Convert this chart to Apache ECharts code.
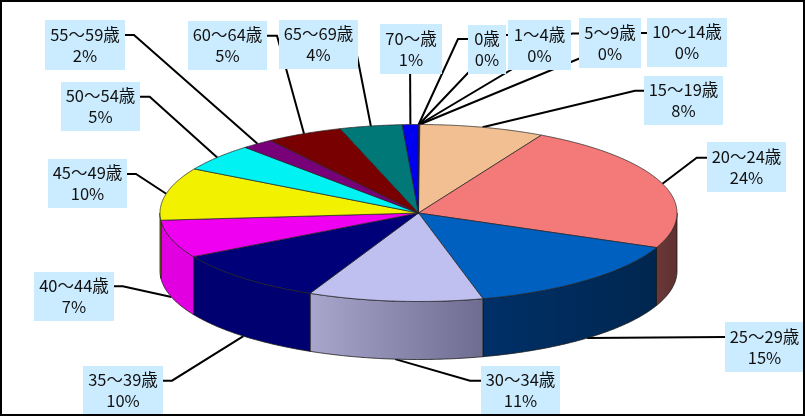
<!DOCTYPE html>
<html><head><meta charset="utf-8">
<script src="https://cdn.jsdelivr.net/npm/echarts@6/dist/echarts.min.js"></script>
<style>html,body{margin:0;padding:0;background:#fff}#c{width:805px;height:416px}</style>
</head><body><div id="c"></div>
<script>
// data
const categories = ['0歳','1〜4歳','5〜9歳','10〜14歳','15〜19歳','20〜24歳','25〜29歳','30〜34歳','35〜39歳','40〜44歳','45〜49歳','50〜54歳','55〜59歳','60〜64歳','65〜69歳','70〜歳'];
const values = [0.02,0.02,0.02,0.02,7.8,23.5,14.6,10.9,9.9,6.9,9.6,5.0,2.0,4.8,3.9,1.0];

// styles
const topColors = ['#ff8080','#0066cc','#ccccff','#000080','#f2bf92','#f47a7a','#0060c0','#c0c0f0','#000078','#f000f0','#f2f200','#00f2f2','#780078','#780000','#007878','#0000f0'];
const wallColors = [null,null,null,null,null,['#6b3838','#5e3030'],['#003068','#00264f'],['#a8a6cc','#6e6c90'],['#000070','#000070'],['#e000e0','#e000e0'],['#c4c400','#c4c400'],null,null,null,null,null];

// layout
const CX = 418.5, CY = 213, RX = 258.5, RY = 88.5, DEPTH = 58;
const labelBoxes = [[468,25,38,49],[508,20,63,50],[579,18,62,50],[647,18,80,49],[644,76,79,49],[707,142,79,50],[725,322,79,50],[481,366,79,49],[83,366,80,49],[34,272,80,49],[48,159,79,49],[61,82,79,49],[45,20,80,50],[188,21,79,49],[279,20,79,49],[380,24,62,50]];
const elbows = [[458,39],[504,35],[572,33.5],[641,33],[635,90.7],[696.7,157.7],[725,337],[470,380.7],[172,380.7],[122.7,286.3],[136,174],[149.7,96.7],[134,35],[277,35.7],[353,35],[410,50]];
const boxSideX = [468,508,579,647,644,707,725,481,163,114,127,140,125,267,358,410];

const total = values.reduce((a, b) => a + b, 0);
let run = 0;
const tableRows = values.map((v, i) => { const s = run; run += v; return [i, s / total * 360, run / total * 360, v]; });
const pt = (deg, dy) => { const r = deg * Math.PI / 180; return [CX + RX * Math.sin(r), CY - RY * Math.cos(r) + (dy || 0)]; };

function arc(a, b) {
  const n = Math.max(1, Math.ceil((b - a) / 0.5)), out = [];
  for (let k = 0; k <= n; k++) out.push(a + (b - a) * k / n);
  return out;
}

const renderPie = (params, api) => {
  const i = api.value(0), a = api.value(1), b = api.value(2), children = [];
  const wa = Math.max(a, 90), wb = Math.min(b, 270);
  if (wb > wa && wallColors[i]) {
    const as = arc(wa, wb);
    children.push({ type: 'polygon', silent: true, z2: 1,
      shape: { points: as.map(d => pt(d)).concat(as.slice().reverse().map(d => pt(d, DEPTH))) },
      style: { fill: { type: 'linear', x: 0, y: 0, x2: 1, y2: 0, colorStops: [{ offset: 0, color: wallColors[i][0] }, { offset: 1, color: wallColors[i][1] }] }, stroke: '#1a1a1a', lineWidth: 0.8 } });
  }
  children.push({ type: 'polygon', silent: true, z2: 2,
    shape: { points: [[CX, CY]].concat(arc(a, b).map(d => pt(d))) },
    style: { fill: topColors[i], stroke: '#222', lineWidth: 0.7 } });
  return { type: 'group', children };
};

const renderLine = (params, api) => {
  const i = api.value(0), mid = (api.value(1) + api.value(2)) / 2;
  const end = pt(mid, mid > 90 && mid < 270 ? DEPTH : 0), e = elbows[i];
  return { type: 'polyline', silent: true,
    shape: { points: [end, e, [boxSideX[i], e[1]]] },
    style: { fill: null, stroke: '#000', lineWidth: 2 } };
};

const renderLabel = (params, api) => {
  const i = api.value(0), b = labelBoxes[i];
  return { type: 'group', children: [
    { type: 'rect', silent: true, shape: { x: b[0], y: b[1], width: b[2], height: b[3] }, style: { fill: '#cbebff' } },
    { type: 'text', silent: true, z2: 5, style: { x: b[0] + b[2] / 2, y: b[1] + b[3] / 2, text: categories[i] + '\n' + Math.round(api.value(3)) + '%',
      fill: '#111', font: '16.5px "Noto Sans CJK JP"', lineHeight: 21, align: 'center', verticalAlign: 'middle' } }
  ] };
};

const chart = echarts.init(document.getElementById('c'), null, { renderer: 'canvas' });
chart.setOption({
  animation: false,
  backgroundColor: '#fff',
  series: [
    { type: 'custom', coordinateSystem: 'none', z: 1, data: tableRows, renderItem: renderLine },
    { type: 'custom', coordinateSystem: 'none', z: 2, data: tableRows, renderItem: renderPie },
    { type: 'custom', coordinateSystem: 'none', z: 3, data: tableRows, renderItem: renderLabel }
  ],
  graphic: [{ type: 'rect', z: 100, silent: true, shape: { x: 1, y: 1, width: 803, height: 414 }, style: { fill: null, stroke: '#000', lineWidth: 2 } }]
});
</script></body></html>
